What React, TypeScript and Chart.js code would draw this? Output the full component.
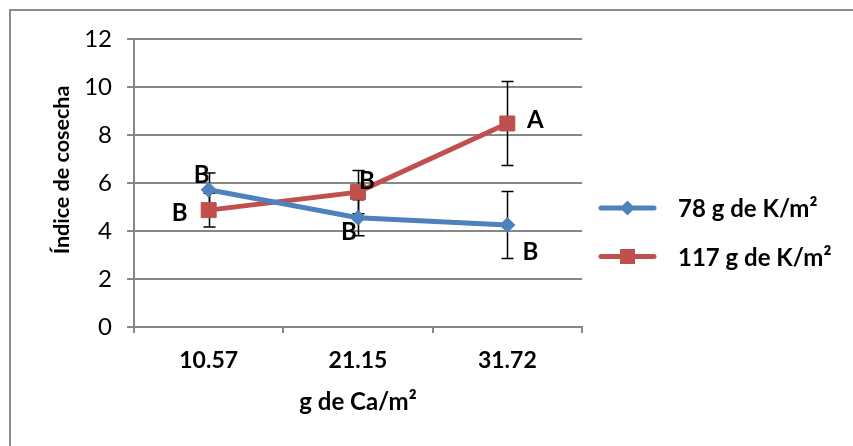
import React, { useEffect, useRef } from "react";
import { Chart, registerables } from "chart.js";

Chart.register(...registerables);

// Calcium doses on the x axis
const categories = ["10.57", "21.15", "31.72"];

// Harvest index per potassium dose
const seriesNames = ["78 g de K/m²", "117 g de K/m²"];
const k78Values = [5.72, 4.55, 4.25];
const k117Values = [4.87, 5.62, 8.48];

// Error bar half-widths
const k78Errors = [0.7, 0.75, 1.4];
const k117Errors = [0.7, 0.9, 1.75];

// Significance letters
const k78Letters = ["B", "B", "B"];
const k117Letters = ["B", "B", "A"];

// Y axis range
const yMin = 0;
const yMax = 12;
const yStep = 2;

const yTitle = "Índice de cosecha";
const xTitle = "g de Ca/m²";

const BLUE = "#4F81BD";
const RED = "#C0504D";
const GRID = "#878787";
const FONT = "Lato, 'Open Sans', sans-serif";

// label placement relative to each point (px)
const letterOffsets = [
  [[-7, -15], [-9, 14], [23, 26]],
  [[-29, 2], [9, -12], [28, -4]],
];

const errorSets = [k78Errors, k117Errors];
const letterSets = [k78Letters, k117Letters];

function drawMarker(ctx: CanvasRenderingContext2D, style: string, r: number, x: number, y: number) {
  ctx.beginPath();
  if (style === "rectRot") {
    ctx.moveTo(x, y - r);
    ctx.lineTo(x + r, y);
    ctx.lineTo(x, y + r);
    ctx.lineTo(x - r, y);
    ctx.closePath();
  } else {
    const s = r * Math.SQRT1_2;
    ctx.rect(x - s, y - s, 2 * s, 2 * s);
  }
  ctx.fill();
}

const decorPlugin = {
  id: "decor",
  beforeDraw(chart: any) {
    const ctx = chart.ctx;
    ctx.save();
    ctx.fillStyle = "#fff";
    ctx.fillRect(0, 0, chart.width, chart.height);
    ctx.strokeStyle = "#8c8c8c";
    ctx.lineWidth = 2;
    ctx.beginPath();
    ctx.moveTo(10, chart.height);
    ctx.lineTo(10, 10);
    ctx.lineTo(chart.width, 10);
    ctx.stroke();
    ctx.restore();
  },
  beforeDatasetsDraw(chart: any) {
    const ctx = chart.ctx;
    const y = chart.scales.y;
    ctx.save();
    ctx.strokeStyle = "#000";
    ctx.lineWidth = 1.5;
    chart.data.datasets.forEach((ds: any, di: number) => {
      const meta = chart.getDatasetMeta(di);
      meta.data.forEach((pt: any, i: number) => {
        const v = ds.data[i];
        const e = errorSets[di][i];
        const x = Math.round(pt.x) + 0.5;
        const top = y.getPixelForValue(v + e);
        const bot = y.getPixelForValue(v - e);
        ctx.beginPath();
        ctx.moveTo(x, top);
        ctx.lineTo(x, bot);
        ctx.moveTo(x - 6, top);
        ctx.lineTo(x + 6, top);
        ctx.moveTo(x - 6, bot);
        ctx.lineTo(x + 6, bot);
        ctx.stroke();
      });
    });
    ctx.restore();
  },
  afterDraw(chart: any) {
    const ctx = chart.ctx;
    const area = chart.chartArea;
    ctx.save();
    // significance letters
    ctx.fillStyle = "#000";
    ctx.font = `bold 24px ${FONT}`;
    ctx.textAlign = "center";
    ctx.textBaseline = "alphabetic";
    chart.data.datasets.forEach((_ds: any, di: number) => {
      const meta = chart.getDatasetMeta(di);
      meta.data.forEach((pt: any, i: number) => {
        const [dx, dy] = letterOffsets[di][i];
        ctx.fillText(letterSets[di][i], pt.x + dx, pt.y + dy + 8.5);
      });
    });

    // y axis title
    ctx.save();
    ctx.font = `bold 21.5px ${FONT}`;
    ctx.translate(69, (area.top + area.bottom) / 2 - 13);
    ctx.rotate(-Math.PI / 2);
    ctx.textAlign = "center";
    ctx.fillText(yTitle, 0, 0);
    ctx.restore();

    // legend
    const rows = [
      { name: seriesNames[0], color: BLUE, style: "rectRot", r: 7.5, y: 208 },
      { name: seriesNames[1], color: RED, style: "rect", r: 10.6, y: 256.5 },
    ];
    ctx.font = `bold 24px ${FONT}`;
    rows.forEach((row) => {
      ctx.strokeStyle = row.color;
      ctx.lineWidth = 5;
      ctx.lineCap = "round";
      ctx.beginPath();
      ctx.moveTo(601, row.y);
      ctx.lineTo(654, row.y);
      ctx.stroke();
      ctx.fillStyle = row.color;
      drawMarker(ctx, row.style, row.r, 627.5, row.y);
      ctx.fillStyle = "#000";
      ctx.textAlign = "left";
      ctx.textBaseline = "alphabetic";
      ctx.fillText(row.name, 678, row.y + 9);
    });
    ctx.restore();
  },
};

export default function App() {
  const canvasRef = useRef<HTMLCanvasElement>(null);

  useEffect(() => {
    const canvas = canvasRef.current;
    if (!canvas) return;
    const chart = new Chart(canvas, {
      type: "line",
      data: {
        labels: categories,
        datasets: [
          {
            label: seriesNames[0],
            data: k78Values,
            borderColor: BLUE,
            backgroundColor: BLUE,
            borderWidth: 5,
            pointStyle: "rectRot",
            pointRadius: 7.5,
            pointBorderWidth: 1,
            tension: 0,
          },
          {
            label: seriesNames[1],
            data: k117Values,
            borderColor: RED,
            backgroundColor: RED,
            borderWidth: 5,
            pointStyle: "rect",
            pointRadius: 10.6,
            pointBorderWidth: 1,
            tension: 0,
          },
        ],
      },
      options: {
        responsive: false,
        animation: false,
        devicePixelRatio: 1,
        layout: { padding: { left: 0, top: 39, right: 271, bottom: 0 } },
        plugins: {
          legend: { display: false },
          tooltip: { enabled: false },
        },
        scales: {
          x: {
            offset: true,
            grid: {
              display: true,
              drawOnChartArea: false,
              drawTicks: true,
              tickLength: 6,
              offset: true,
              color: GRID,
              lineWidth: 2,
            },
            border: { color: GRID, width: 2 },
            ticks: {
              color: "#000",
              padding: 14,
              font: { family: FONT, size: 23, weight: "bold" },
            },
            title: {
              display: true,
              text: xTitle,
              color: "#000",
              padding: { top: 0, bottom: 29 },
              font: { family: FONT, size: 24, weight: "bold" },
            },
            afterFit: (s: any) => {
              s.height = 119;
            },
          },
          y: {
            min: yMin,
            max: yMax,
            grid: {
              color: GRID,
              lineWidth: 2,
              tickLength: 7,
            },
            border: { color: GRID, width: 2 },
            ticks: {
              stepSize: yStep,
              color: "#000",
              padding: 15,
              font: { family: FONT, size: 24 },
            },
            afterFit: (s: any) => {
              s.width = 134;
            },
          },
        },
      },
      plugins: [decorPlugin],
    } as any);
    return () => chart.destroy();
  }, []);

  return (
    <div style={{ position: "fixed", left: 0, top: 0, width: 853, height: 446, background: "#fff" }}>
      <canvas ref={canvasRef} width={853} height={446} />
    </div>
  );
}
